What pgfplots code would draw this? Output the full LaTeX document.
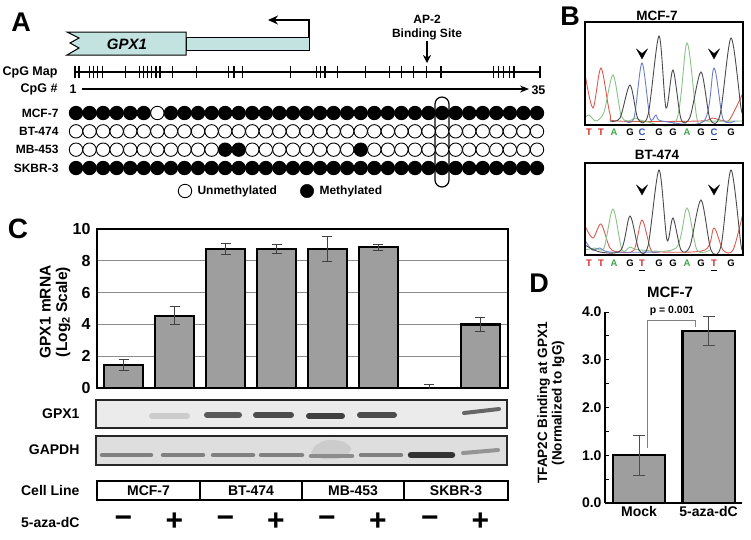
\documentclass[border=0pt]{standalone}
\usepackage{pgfplots}
\pgfplotsset{compat=1.18}
\usepackage{pgfplotstable}
\usepackage{fontspec}
\setmainfont{Liberation Sans}
\usetikzlibrary{arrows.meta}
\definecolor{genebox}{HTML}{C2E3DF}
\definecolor{bargray}{HTML}{9E9E9E}
\definecolor{gridgray}{HTML}{8C8C8C}
\definecolor{tred}{HTML}{DA5A50}
\definecolor{tgreen}{HTML}{8CC08A}
\definecolor{tblue}{HTML}{6C7CC8}
\definecolor{tblack}{HTML}{4A4A4A}
\definecolor{lred}{HTML}{D22B2B}
\definecolor{lgreen}{HTML}{3FA34D}
\definecolor{lblue}{HTML}{2D4FB5}
\newcommand{\sz}[1]{\fontsize{#1}{#1}\selectfont\bfseries}

% methylation status per CpG (1 = methylated)
\pgfplotstableread{
cpg mcf bt mb sk
1 1 0 0 1
2 1 0 0 1
3 1 0 0 1
4 1 0 0 1
5 1 0 0 1
6 1 0 0 1
7 0 0 0 1
8 1 0 0 1
9 1 0 0 1
10 1 0 0 1
11 1 0 0 1
12 1 0 1 1
13 1 0 1 1
14 1 0 0 1
15 1 0 0 1
16 1 0 0 1
17 1 0 0 1
18 1 0 0 1
19 1 0 0 1
20 1 0 0 1
21 1 0 0 1
22 1 0 1 1
23 1 0 0 1
24 1 0 0 1
25 1 0 0 1
26 1 0 0 1
27 1 0 0 1
28 1 0 0 1
29 1 0 0 1
30 1 0 0 1
31 1 0 0 1
32 1 0 0 1
33 1 0 0 1
34 1 0 0 1
35 1 0 0 1
}\methtable

% GPX1 mRNA, log2
\pgfplotstableread{
x y err
0 1.45 0.35
1 4.55 0.55
2 8.75 0.37
3 8.75 0.27
4 8.74 0.80
5 8.85 0.20
6 0.00 0.25
7 4.00 0.43
}\mrna

% TFAP2C ChIP
\pgfplotstableread{
x y err
0 1.00 0.42
1 3.60 0.30
}\chip

\begin{document}
\begin{tikzpicture}
\path[use as bounding box] (0pt,0pt) rectangle (751pt,-539pt);

% ---------- canvas in pixel units ----------
\begin{axis}[at={(0pt,0pt)}, anchor=north west, scale only axis,
  width=751pt, height=539pt, xmin=0, xmax=751, ymin=0, ymax=539,
  y dir=reverse, hide axis, clip=false]

% panel letters
\node[font=\sz{27}] at (21,22) {A};
\node[font=\sz{27}] at (570,16) {B};
\node[font=\sz{28}] at (18,229) {C};
\node[font=\sz{27}] at (539,283) {D};

% gene
\addplot[fill=genebox, draw=black, line width=1pt] coordinates {(186,37)(309,37)(309,50)(186,50)} -- cycle;
\addplot[fill=genebox, draw=black, line width=1pt] coordinates {(186,32)(67,32)(79,38)(70,43)(79,48)(67,55)(186,55)} -- cycle;
\node[font=\sz{15}\itshape] at (127,44) {GPX1};
\addplot[line width=1.1pt, -{Stealth[length=10pt,width=9pt]}] coordinates {(309,37)(309,20)(268,20)};

% CpG map
\node[font=\sz{12.5}, anchor=east] at (61,72) {CpG Map};
\addplot[line width=1.3pt] coordinates {(74,72)(540,72)};
\addplot[only marks, mark=|, mark size=6pt, mark options={line width=1.3pt}] coordinates {
(75,72)(79,72)(89.3,72)(93.3,72)(97.7,72)(102.3,72)(125.7,72)(139.3,72)(143.3,72)(147.3,72)
(151.7,72)(156,72)(160,72)(172.7,72)(196.7,72)(228.3,72)(234,72)(242.7,72)(290.7,72)
(316.7,72)(320.7,72)(325,72)(337.7,72)(365.7,72)(389.3,72)(401.7,72)(413.3,72)(426.7,72)
(441,72)(493.3,72)(498.3,72)(503.3,72)(509.3,72)(514,72)(540,72)};
\node[font=\sz{12.5}, anchor=east] at (61,89) {CpG \#};
\node[font=\sz{12.5}] at (73,89) {1};
\addplot[line width=1.1pt, -{Stealth[length=9pt,width=7pt]}] coordinates {(82,89)(529,89)};
\node[font=\sz{12.5}, anchor=west] at (528,90) {35};

% AP-2
\node[font=\sz{12}] at (427,19) {AP-2};
\node[font=\sz{12}] at (427,34) {Binding Site};
\addplot[line width=1.1pt, -{Stealth[length=8pt,width=8pt]}] coordinates {(427,41)(427,63)};
\draw[line width=1.2pt, rounded corners=7pt] (435,97) rectangle (449,187);

% row labels
\node[font=\sz{12}, anchor=east] at (62,113) {MCF-7};
\node[font=\sz{12}, anchor=east] at (62,131) {BT-474};
\node[font=\sz{12}, anchor=east] at (62,149.5) {MB-453};
\node[font=\sz{12}, anchor=east] at (62,168) {SKBR-3};

% legend
\addplot[only marks, mark=*, mark size=6.7pt, mark options={fill=white, draw=black, line width=0.9pt}] coordinates {(185,191)};
\node[font=\sz{12}, anchor=west] at (194,191) {Unmethylated};
\addplot[only marks, mark=*, mark size=6.7pt, mark options={fill=black, draw=black}] coordinates {(307,191)};
\node[font=\sz{12}, anchor=west] at (316,191) {Methylated};

% ---------- panel B ----------
\node[font=\sz{13.5}] at (657,16) {MCF-7};
\addplot[tred, line width=0.9pt, smooth] coordinates {(585,74)(593,108)(601,68)(610,114)(618,121)(700,121)(712,118)(724,121)(730,119)(743,93)};
\addplot[tgreen, line width=0.9pt, smooth] coordinates {(585,118)(589,115)(596,121)(604,112)(613,75)(621,115)(628,121)(636,118)(644,121)(676,121)(687,43)(697,119)(705,121)(743,121)};
\addplot[tblue, line width=0.9pt, smooth] coordinates {(625,121)(634,118)(642,63)(650,118)(656,115)(662,121)(704,121)(714,68)(723,119)(735,121)};
\addplot[tblack, line width=0.9pt, smooth] coordinates {(610,121)(620,118)(630,85)(638,119)(648,115)(659,36)(666,108)(673,70)(681,119)(690,117)(701,72)(710,119)(720,115)(731,38)(741,108)(743,112)};
\addplot[line width=1.8pt] coordinates {(585,22)(743,22)(743,125)(585,125)} -- cycle;

\node[font=\sz{13.5}] at (657,155) {BT-474};
\addplot[tred, line width=0.9pt, smooth] coordinates {(585,226)(593,238)(601,224)(610,248)(620,252)(634,250)(642,220)(651,250)(660,252)(705,250)(714,228)(723,250)(733,250)(743,213)};
\addplot[tgreen, line width=0.9pt, smooth] coordinates {(585,250)(595,248)(604,248)(613,209)(622,250)(630,247)(640,250)(676,248)(687,208)(697,250)(710,250)};
\addplot[tblue, line width=0.9pt, smooth] coordinates {(585,240)(592,250)(600,248)(610,252)(660,252)};
\addplot[tblack, line width=0.9pt, smooth] coordinates {(585,245)(600,252)(621,250)(630,216)(639,250)(648,246)(659,170)(667,240)(673,218)(681,250)(690,246)(701,200)(711,250)(721,246)(731,170)(741,245)(743,248)};
\addplot[line width=1.8pt] coordinates {(585,163)(743,163)(743,255)(585,255)} -- cycle;

% chevrons
\addplot[fill=black, draw=black, line width=0.3pt] coordinates {(636.5,49)(642,59)(647.5,49)(642,53.5)} -- cycle;
\addplot[fill=black, draw=black, line width=0.3pt] coordinates {(708.5,49)(714,59)(719.5,49)(714,53.5)} -- cycle;
\addplot[fill=black, draw=black, line width=0.3pt] coordinates {(636.5,185)(642,195)(647.5,185)(642,189.5)} -- cycle;
\addplot[fill=black, draw=black, line width=0.3pt] coordinates {(708.5,185)(714,195)(719.5,185)(714,189.5)} -- cycle;

% base calls
\begin{scope}[every node/.style={font=\sz{9.5}}]
\node[lred] at (589,132) {T}; \node[lred] at (601,132) {T}; \node[lgreen] at (614,132) {A};
\node at (630,132) {G}; \node[lblue] at (642,132) {C}; \node at (659,132) {G};
\node at (673,132) {G}; \node[lgreen] at (687,132) {A}; \node at (701,132) {G};
\node[lblue] at (714,132) {C}; \node at (731,132) {G};
\node[lred] at (589,263) {T}; \node[lred] at (601,263) {T}; \node[lgreen] at (614,263) {A};
\node at (630,263) {G}; \node[lred] at (642,263) {T}; \node at (659,263) {G};
\node at (673,263) {G}; \node[lgreen] at (687,263) {A}; \node at (701,263) {G};
\node[lred] at (714,263) {T}; \node at (731,263) {G};
\end{scope}
\addplot[line width=1.2pt] coordinates {(639,139.5)(645,139.5)};
\addplot[line width=1.2pt] coordinates {(711,139.5)(717,139.5)};
\addplot[line width=1.2pt] coordinates {(639,270.5)(645,270.5)};
\addplot[line width=1.2pt] coordinates {(711,270.5)(717,270.5)};

% ---------- panel C extras ----------
\node[font=\sz{15.5}, rotate=90, align=center] at (55,312) {GPX1 mRNA\\[1pt](Log\textsubscript{2} Scale)};

% GPX1 blot
\addplot[fill=black!8, draw=none] coordinates {(96,400)(507,400)(507,428)(96,428)} -- cycle;
\addplot[line width=6pt, black!20, line cap=round] coordinates {(152,416)(187,416)};
\addplot[line width=6pt, black!65, line cap=round] coordinates {(207,415)(239,415)};
\addplot[line width=6pt, black!70, line cap=round] coordinates {(256,415)(291,415)};
\addplot[line width=6pt, black!75, line cap=round] coordinates {(309,416)(342,416)};
\addplot[line width=6pt, black!70, line cap=round] coordinates {(360,415)(394,415)};
\addplot[line width=4pt, black!60, line cap=round] coordinates {(464,413)(499,409)};
\addplot[line width=2.2pt, draw=black!85] coordinates {(96,400)(507,400)(507,428)(96,428)} -- cycle;
\node[font=\sz{14}, anchor=east] at (83,414) {GPX1};

% GAPDH blot
\addplot[fill=black!13, draw=none] coordinates {(96,436)(507,436)(507,465)(96,465)} -- cycle;
\addplot[fill=black!20, draw=none, smooth] coordinates {(311,453)(316,445)(328,440)(344,442)(351,449)(342,458)(322,459)} -- cycle;
\addplot[line width=4.5pt, black!50, line cap=round] coordinates {(102,455)(151,455)};
\addplot[line width=4.5pt, black!50, line cap=round] coordinates {(163,455)(203,455)};
\addplot[line width=4.5pt, black!50, line cap=round] coordinates {(213,455)(253,455)};
\addplot[line width=4.5pt, black!50, line cap=round] coordinates {(261,455)(302,455)};
\addplot[line width=4.5pt, black!45, line cap=round] coordinates {(311,456)(352,456)};
\addplot[line width=4.5pt, black!50, line cap=round] coordinates {(361,455)(401,455)};
\addplot[line width=6.5pt, black!80, line cap=round] coordinates {(411,455)(452,455)};
\addplot[line width=4pt, black!42, line cap=round] coordinates {(463,453)(498,450)};
\addplot[line width=2.2pt, draw=black!85] coordinates {(96,436)(507,436)(507,465)(96,465)} -- cycle;
\node[font=\sz{14}, anchor=east] at (83,450) {GAPDH};

% cell line row
\addplot[line width=1.6pt] coordinates {(97,481)(508,481)(508,500)(97,500)} -- cycle;
\addplot[line width=1.6pt] coordinates {(200,481)(200,500)};
\addplot[line width=1.6pt] coordinates {(302,481)(302,500)};
\addplot[line width=1.6pt] coordinates {(404,481)(404,500)};
\node[font=\sz{14}, anchor=east] at (83,490) {Cell Line};
\node[font=\sz{14}] at (148.5,490.5) {MCF-7};
\node[font=\sz{14}] at (251,490.5) {BT-474};
\node[font=\sz{14}] at (353,490.5) {MB-453};
\node[font=\sz{14}] at (456,490.5) {SKBR-3};

% treatment row
\node[font=\sz{14}, anchor=east] at (83,522) {5-aza-dC};
\begin{scope}[every node/.style={font=\sz{30}}]
\node at (123.5,522) {−}; \node at (174.5,522) {+};
\node at (225.5,522) {−}; \node at (276,522) {+};
\node at (327,522) {−}; \node at (378,522) {+};
\node at (430,522) {−}; \node at (480.5,522) {+};
\end{scope}

% ---------- panel D extras ----------
\node[font=\sz{15}] at (670,292) {MCF-7};
\node[font=\sz{13.5}, rotate=90, align=center] at (551,403) {TFAP2C Binding at GPX1\\[1pt](Normalized to IgG)};
\end{axis}

% ---------- methylation circles ----------
\begin{axis}[at={(76pt,-113pt)}, anchor=north west, scale only axis,
  width=461pt, height=55pt, xmin=1, xmax=35, ymin=1, ymax=4,
  y dir=reverse, hide axis, clip=false,
  scatter/classes={0={mark=*, draw=black, fill=white}, 1={mark=*, draw=black, fill=black}}]
\addplot[scatter, only marks, scatter src=explicit symbolic, mark size=6.7pt, line width=0.9pt]
  table[x=cpg, y expr=1, meta=mcf] {\methtable};
\addplot[scatter, only marks, scatter src=explicit symbolic, mark size=6.7pt, line width=0.9pt]
  table[x=cpg, y expr=2, meta=bt] {\methtable};
\addplot[scatter, only marks, scatter src=explicit symbolic, mark size=6.7pt, line width=0.9pt]
  table[x=cpg, y expr=3, meta=mb] {\methtable};
\addplot[scatter, only marks, scatter src=explicit symbolic, mark size=6.7pt, line width=0.9pt]
  table[x=cpg, y expr=4, meta=sk] {\methtable};
\end{axis}

% ---------- panel C bars ----------
\begin{axis}[at={(97pt,-388pt)}, anchor=south west, scale only axis,
  width=411pt, height=159pt, xmin=-0.52, xmax=7.54, ymin=0, ymax=10,
  xtick=\empty, ytick={0,2,...,10},
  ymajorgrids, grid style={gridgray, line width=1pt},
  major tick length=0pt, axis line style={line width=2.2pt},
  /pgf/number format/assume math mode=true,
  yticklabel style={font=\sz{16}, xshift=-3pt}]
\addplot[ybar, bar width=0.75, fill=bargray, draw=black, line width=2.2pt,
  error bars/.cd, y dir=both, y explicit,
  error bar style={line width=1pt, black!75},
  error mark options={rotate=90, mark size=5pt, line width=1pt, black!75}]
  table[x=x, y=y, y error=err] {\mrna};
\end{axis}

% ---------- panel D bars ----------
\begin{axis}[at={(605pt,-503pt)}, anchor=south west, scale only axis,
  width=137pt, height=191pt, xmin=-0.49, xmax=1.48, ymin=0, ymax=4,
  axis lines=left, axis line style={-, line width=2.2pt},
  xtick={0,1}, xticklabels={Mock,5-aza-dC}, x tick style={draw=none},
  ytick={0,1,2,3,4}, minor ytick={0.5,1.5,2.5,3.5},
  tick align=inside, y tick style={black, line width=1pt},
  major tick length=4pt, minor tick length=4pt,
  /pgf/number format/assume math mode=true,
  yticklabel style={font=\sz{14}, /pgf/number format/.cd, fixed, fixed zerofill, precision=1},
  xticklabel style={font=\sz{14}}, clip=false]
\addplot[ybar, bar width=0.75, fill=bargray, draw=black, line width=2.2pt,
  error bars/.cd, y dir=both, y explicit,
  error bar style={line width=1pt, black!70},
  error mark options={rotate=90, mark size=6pt, line width=1pt, black!70}]
  table[x=x, y=y, y error=err] {\chip};
\addplot[gray, line width=0.8pt] coordinates {(0.115,1.15)(0.115,3.83)(0.806,3.83)(0.806,3.69)};
\node[font=\sz{10.5}] at (axis cs:0.475,4.02) {p = 0.001};
\end{axis}
\end{tikzpicture}
\end{document}
